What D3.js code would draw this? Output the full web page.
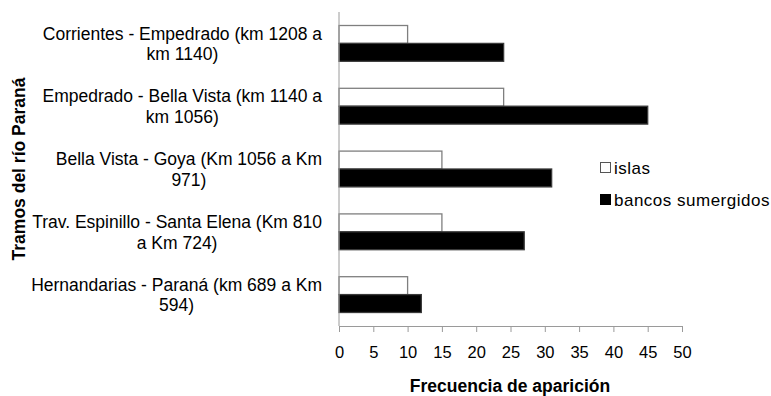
<!DOCTYPE html>
<html>
<head>
<meta charset="utf-8">
<script src="https://cdn.jsdelivr.net/npm/d3@7"></script>
<style>
  html, body { margin: 0; padding: 0; background: #fff; }
  svg { display: block; font-family: "Liberation Sans", Arial, sans-serif; }
</style>
</head>
<body>
<svg id="chart" width="771" height="396"></svg>
<script>
// River sections (top to bottom); "\n" marks the label line break
const categories = [
  "Corrientes - Empedrado (km 1208 a\nkm 1140)",
  "Empedrado - Bella Vista (km 1140 a\nkm 1056)",
  "Bella Vista - Goya (Km 1056 a Km\n971)",
  "Trav. Espinillo - Santa Elena (Km 810\na Km 724)",
  "Hernandarias - Paraná (km 689 a Km\n594)"
];
const islas = [10, 24, 15, 15, 10];
const bancos = [24, 45, 31, 27, 12];
const seriesNames = ["islas", "bancos sumergidos"];
const xTicks = [0, 5, 10, 15, 20, 25, 30, 35, 40, 45, 50];
const xTitle = "Frecuencia de aparición";
const yTitle = "Tramos del río Paraná";

const svg = d3.select("#chart");
const plot = { left: 339, right: 682, top: 12, bottom: 326 };

const x = d3.scaleLinear().domain([0, 50]).range([plot.left, plot.right]);
const y = d3.scaleBand().domain(categories).range([plot.top, plot.bottom])
  .paddingInner(0.43).paddingOuter(0.215);
const sub = d3.scaleBand().domain(seriesNames).range([0, y.bandwidth()]);

const rows = categories.map((c, i) => ({ cat: c, values: [islas[i], bancos[i]] }));
const fills = ["#ffffff", "#000000"];
const strokes = ["#7f7f7f", "#3a3a3a"];

// Bars
const g = svg.append("g");
rows.forEach(r => {
  seriesNames.forEach((s, j) => {
    g.append("rect")
      .attr("x", x(0))
      .attr("y", y(r.cat) + sub(s))
      .attr("width", x(r.values[j]) - x(0))
      .attr("height", sub.bandwidth())
      .attr("fill", fills[j])
      .attr("stroke", strokes[j])
      .attr("stroke-width", 1.3);
  });
});

// Category axis (line only; labels are wrapped blocks, right-aligned to the
// axis, with each line centred inside its block)
svg.append("line")
  .attr("x1", plot.left).attr("x2", plot.left)
  .attr("y1", plot.top).attr("y2", plot.bottom)
  .attr("stroke", "#9a9a9a").attr("stroke-width", 1);

const labelRight = 322, lineH = 20.5;
categories.forEach(c => {
  const lines = c.split("\n");
  const cy = y(c) + y.bandwidth() / 2;
  const t = svg.append("text")
    .attr("text-anchor", "middle")
    .attr("font-size", 17.5)
    .attr("fill", "#000");
  const spans = lines.map((ln, k) => t.append("tspan")
    .attr("y", cy + (k - (lines.length - 1) / 2) * lineH + 6.5)
    .text(ln));
  const maxW = d3.max(spans, s => s.node().getComputedTextLength());
  spans.forEach(s => s.attr("x", labelRight - maxW / 2));
});

// Value axis
const xAxis = d3.axisBottom(x).tickValues(xTicks).tickSize(6).tickSizeOuter(0).tickPadding(14);
const ax = svg.append("g").attr("transform", `translate(0,${plot.bottom})`).call(xAxis);
ax.select(".domain").attr("stroke", "#9a9a9a");
ax.selectAll(".tick line").attr("stroke", "#9a9a9a");
ax.selectAll(".tick text").attr("font-size", 16.5).attr("fill", "#000")
  .attr("font-family", "Liberation Sans, Arial, sans-serif");

// Axis titles
svg.append("text")
  .attr("x", 510)
  .attr("y", 392)
  .attr("text-anchor", "middle")
  .attr("font-size", 17.5).attr("font-weight", "bold")
  .text(xTitle);

svg.append("text")
  .attr("transform", "translate(25,169) rotate(-90)")
  .attr("text-anchor", "middle")
  .attr("font-size", 17.5).attr("font-weight", "bold")
  .text(yTitle);

// Legend
const legend = svg.append("g").attr("transform", "translate(600,162)");
seriesNames.forEach((s, j) => {
  const row = legend.append("g").attr("transform", `translate(0,${j * 32})`);
  row.append("rect")
    .attr("x", 0.5).attr("y", 0.5).attr("width", 10).attr("height", 10)
    .attr("fill", fills[j]).attr("stroke", j === 0 ? "#555" : "#000");
  row.append("text")
    .attr("x", 14).attr("y", 11.5)
    .attr("font-size", 17)
    .attr("letter-spacing", 0.5)
    .text(s);
});
</script>
</body>
</html>
